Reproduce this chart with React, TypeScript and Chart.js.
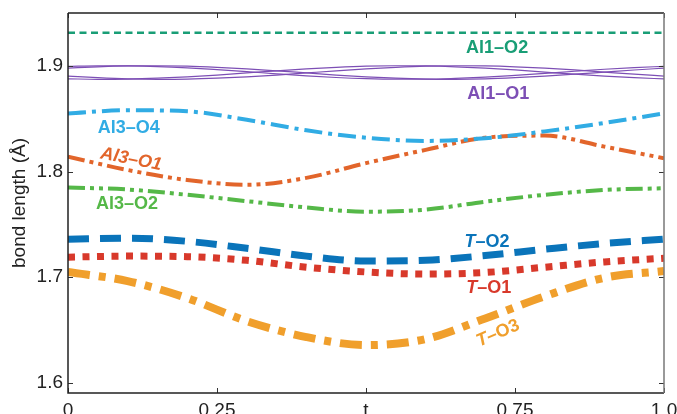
import React, { useEffect, useRef } from 'react';
import { Chart, registerables } from 'chart.js';
Chart.register(...registerables);

// ---- data ----
const T11 = [0, 0.1, 0.2, 0.3, 0.4, 0.5, 0.6, 0.7, 0.8, 0.9, 1.0];
const T21 = [0, 0.05, 0.1, 0.15, 0.2, 0.25, 0.3, 0.35, 0.4, 0.45, 0.5, 0.55, 0.6, 0.65, 0.7, 0.75, 0.8, 0.85, 0.9, 0.95, 1.0];

const AL1_O2 = [1.9313, 1.9313, 1.9313, 1.9313, 1.9313, 1.9313, 1.9313, 1.9313, 1.9313, 1.9313, 1.9313];
const AL1_O1_A = [1.8995, 1.9, 1.8999, 1.8993, 1.8981, 1.8964, 1.8945, 1.8925, 1.8906, 1.889, 1.8879, 1.8874, 1.8874, 1.8881, 1.8893, 1.891, 1.8929, 1.8949, 1.8968, 1.8984, 1.8995];
const AL1_O1_B = [1.8978, 1.8991, 1.8999, 1.9001, 1.8997, 1.8986, 1.8971, 1.8953, 1.8933, 1.8913, 1.8896, 1.8883, 1.8875, 1.8873, 1.8877, 1.8888, 1.8903, 1.8921, 1.8941, 1.8961, 1.8978];
const AL1_O1_C = [1.8903, 1.8888, 1.8877, 1.8873, 1.8875, 1.8883, 1.8896, 1.8913, 1.8933, 1.8953, 1.8971, 1.8986, 1.8997, 1.9001, 1.8999, 1.8991, 1.8978, 1.8961, 1.8941, 1.8921, 1.8903];
const AL1_O1_D = [1.8877, 1.8873, 1.8875, 1.8883, 1.8896, 1.8913, 1.8933, 1.8953, 1.8971, 1.8986, 1.8997, 1.9001, 1.8999, 1.8991, 1.8978, 1.8961, 1.8941, 1.8921, 1.8903, 1.8888, 1.8877];
const AL3_O4 = [1.855, 1.858, 1.857, 1.849, 1.839, 1.832, 1.829, 1.8315, 1.838, 1.846, 1.855];
const AL3_O1 = [1.814, 1.8015, 1.792, 1.7875, 1.794, 1.808, 1.8205, 1.832, 1.834, 1.8236, 1.8126];
const AL3_O2 = [1.785, 1.783, 1.778, 1.772, 1.766, 1.762, 1.764, 1.7715, 1.778, 1.7826, 1.7842];
const T_O2 = [1.736, 1.737, 1.734, 1.7274, 1.72, 1.7153, 1.716, 1.7205, 1.7265, 1.732, 1.736];
const T_O1 = [1.719, 1.72, 1.7195, 1.716, 1.7095, 1.705, 1.703, 1.7045, 1.7095, 1.7145, 1.718];
const T_O3 = [1.7049, 1.6964, 1.6803, 1.6585, 1.6434, 1.6358, 1.6415, 1.661, 1.682, 1.6995, 1.7059];

const X_TICKS = [0, 0.25, 0.5, 0.75, 1.0];
const X_TICK_LABELS = ['0', '0.25', 't', '0.75', '1.0'];
const Y_TICKS = [1.6, 1.7, 1.8, 1.9];
const Y_MIN = 1.5905;
const Y_MAX = 1.95;

const FONT = '"Liberation Sans", Arial, Helvetica, sans-serif';

type Part = { s: string; italic: boolean };
const LABELS: { parts: Part[]; t: number; v: number; color: string; rot: number }[] = [
  { parts: [{ s: 'Al1–O2', italic: false }], t: 0.72, v: 1.917, color: '#199E76', rot: 0 },
  { parts: [{ s: 'Al1–O1', italic: false }], t: 0.722, v: 1.8735, color: '#7D4FB5', rot: 0 },
  { parts: [{ s: 'Al3–O4', italic: false }], t: 0.102, v: 1.8413, color: '#31ACE4', rot: 0 },
  { parts: [{ s: 'Al3–O1', italic: true }], t: 0.106, v: 1.8115, color: '#E2652B', rot: 11 },
  { parts: [{ s: 'Al3–O2', italic: false }], t: 0.099, v: 1.7693, color: '#55B848', rot: 0 },
  { parts: [{ s: 'T', italic: true }, { s: '–O2', italic: false }], t: 0.703, v: 1.7333, color: '#0A74BA', rot: 0 },
  { parts: [{ s: 'T', italic: true }, { s: '–O1', italic: false }], t: 0.706, v: 1.6898, color: '#D8392B', rot: 0 },
  { parts: [{ s: 'T', italic: true }, { s: '–O3', italic: false }], t: 0.7215, v: 1.647, color: '#F09F2C', rot: -23 },
];

const pts = (xs: number[], ys: number[]) => xs.map((x, i) => ({ x, y: ys[i] }));

const framePlugin = {
  id: 'framePlugin',
  afterDatasetsDraw(chart: any) {
    const { ctx, chartArea, scales } = chart;
    const { left, right, top, bottom } = chartArea;
    const x = scales.x;
    const y = scales.y;
    ctx.save();
    // labels
    LABELS.forEach((l) => {
      const px = x.getPixelForValue(l.t);
      const py = y.getPixelForValue(l.v);
      const fonts = l.parts.map((p) => `${p.italic ? 'italic ' : ''}bold 18px ${FONT}`);
      let total = 0;
      const widths = l.parts.map((p, i) => {
        ctx.font = fonts[i];
        const w = ctx.measureText(p.s).width;
        total += w;
        return w;
      });
      ctx.save();
      ctx.translate(px, py);
      ctx.rotate((l.rot * Math.PI) / 180);
      ctx.fillStyle = l.color;
      ctx.textBaseline = 'middle';
      ctx.textAlign = 'left';
      let cx = -total / 2;
      l.parts.forEach((p, i) => {
        ctx.font = fonts[i];
        ctx.fillText(p.s, cx, 0);
        cx += widths[i];
      });
      ctx.restore();
    });
    // ticks
    ctx.strokeStyle = '#333';
    ctx.lineWidth = 1;
    ctx.beginPath();
    X_TICKS.forEach((v) => {
      const px = Math.round(x.getPixelForValue(v)) + 0.5;
      ctx.moveTo(px, bottom);
      ctx.lineTo(px, bottom - 5);
      ctx.moveTo(px, top);
      ctx.lineTo(px, top + 5);
    });
    Y_TICKS.forEach((v) => {
      const py = Math.round(y.getPixelForValue(v)) + 0.5;
      ctx.moveTo(left, py);
      ctx.lineTo(left + 5, py);
      ctx.moveTo(right, py);
      ctx.lineTo(right - 5, py);
    });
    ctx.stroke();
    // frame
    ctx.lineWidth = 1.5;
    ctx.strokeStyle = '#222';
    ctx.beginPath();
    ctx.moveTo(left, top);
    ctx.lineTo(right, top);
    ctx.moveTo(left, top);
    ctx.lineTo(left, bottom);
    ctx.lineTo(right, bottom);
    ctx.stroke();
    ctx.strokeStyle = '#777';
    ctx.beginPath();
    ctx.moveTo(right, top);
    ctx.lineTo(right, bottom);
    ctx.stroke();
    ctx.restore();
  },
};

export default function App() {
  const ref = useRef<HTMLCanvasElement | null>(null);
  useEffect(() => {
    document.body.style.margin = '0';
    const canvas = ref.current;
    if (!canvas) return;
    const mk = (label: string, data: any[], color: string, width: number, dash: number[]) => ({
      label,
      data,
      borderColor: color,
      backgroundColor: color,
      borderWidth: width,
      borderDash: dash,
      borderCapStyle: 'butt',
      pointRadius: 0,
      fill: false,
      cubicInterpolationMode: 'monotone',
    });
    const purple = '#7D4FB5';
    const chart = new Chart(canvas, {
      type: 'line',
      data: {
        datasets: [
          mk('Al1–O2', pts(T11, AL1_O2), '#199E76', 2.6, [7, 4.5]),
          mk('Al1–O1 a', pts(T21, AL1_O1_A), purple, 1.2, []),
          mk('Al1–O1 b', pts(T21, AL1_O1_B), purple, 1.2, []),
          mk('Al1–O1 c', pts(T21, AL1_O1_C), purple, 1.2, []),
          mk('Al1–O1 d', pts(T21, AL1_O1_D), purple, 1.2, []),
          mk('Al3–O4', pts(T11, AL3_O4), '#31ACE4', 4, [18, 6, 4, 6]),
          mk('Al3–O1', pts(T11, AL3_O1), '#E2652B', 4, [17, 5, 4, 5, 4, 5]),
          mk('Al3–O2', pts(T11, AL3_O2), '#55B848', 4, [17, 5, 4, 5, 4, 5]),
          mk('T–O2', pts(T11, T_O2), '#0A74BA', 7, [21, 11]),
          mk('T–O1', pts(T11, T_O1), '#D8392B', 7, [7, 7.5]),
          mk('T–O3', pts(T11, T_O3), '#F09F2C', 8, [22, 9, 7, 9]),
        ] as any,
      },
      options: {
        responsive: false,
        animation: false,
        layout: { padding: { top: 13, right: 13, left: 0, bottom: 0 } },
        plugins: { legend: { display: false }, tooltip: { enabled: false } },
        scales: {
          x: {
            type: 'linear',
            min: 0,
            max: 1,
            grid: { display: false, drawTicks: false },
            border: { display: false },
            ticks: {
              stepSize: 0.25,
              autoSkip: false,
              maxRotation: 0,
              padding: 6,
              color: '#222',
              font: { family: FONT, size: 19 },
              callback: (v: any) => {
                const i = X_TICKS.findIndex((t) => Math.abs(t - Number(v)) < 1e-6);
                return i >= 0 ? X_TICK_LABELS[i] : '';
              },
            },
            afterFit: (s: any) => {
              s.height = 21;
              s.paddingLeft = 0;
              s.paddingRight = 0;
            },
          },
          y: {
            type: 'linear',
            min: Y_MIN,
            max: Y_MAX,
            grid: { display: false, drawTicks: false },
            border: { display: false },
            title: {
              display: true,
              text: 'bond length (Å)',
              color: '#222',
              font: { family: FONT, size: 19 },
              padding: { top: 8, bottom: 0 },
            },
            ticks: {
              stepSize: 0.1,
              includeBounds: false,
              padding: 5,
              color: '#222',
              font: { family: FONT, size: 19 },
              callback: (v: any) => {
                const i = Y_TICKS.findIndex((t) => Math.abs(t - Number(v)) < 1e-6);
                return i >= 0 ? Y_TICKS[i].toFixed(1) : '';
              },
            },
            afterFit: (s: any) => {
              s.width = 68;
              s.paddingTop = 0;
              s.paddingBottom = 0;
            },
          },
        },
      },
      plugins: [framePlugin],
    } as any);
    return () => chart.destroy();
  }, []);
  return (
    <div style={{ width: 677, height: 414 }}>
      <canvas ref={ref} width={677} height={414} style={{ display: 'block' }} />
    </div>
  );
}
